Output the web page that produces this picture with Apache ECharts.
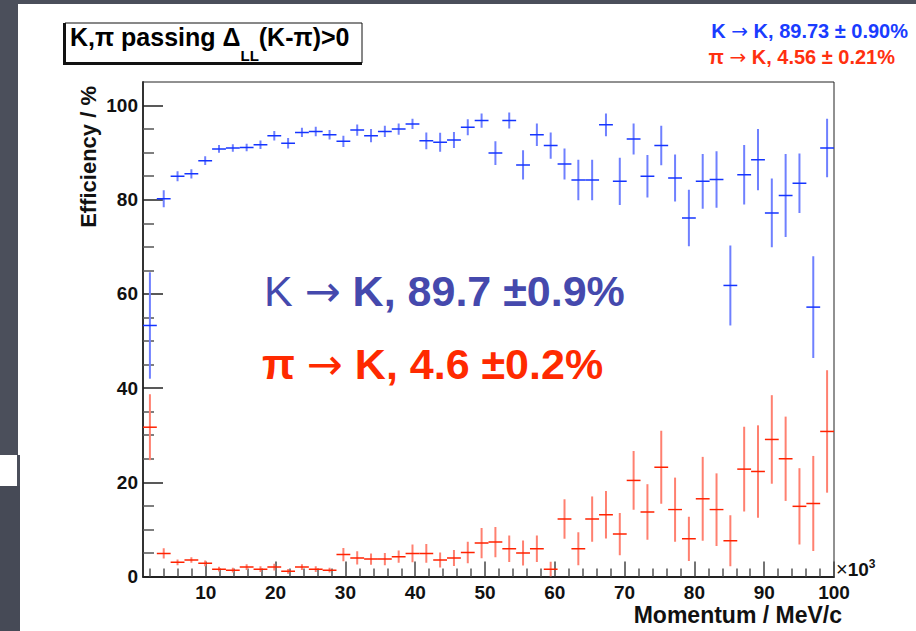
<!DOCTYPE html>
<html lang="en">
<head>
<meta charset="UTF-8">
<title>K,pi passing DLL(K-pi)>0</title>
<script src="https://cdn.jsdelivr.net/npm/echarts@6/dist/echarts.min.js"></script>
<style>html,body{margin:0;padding:0;background:#fff;}</style>
</head>
<body>
<div id="box" style="width:916px;height:631px;"></div>
<script>
// bin centres, x10^3 MeV/c (50 bins between 1 and 100)
var momentum = [1.99, 3.97, 5.95, 7.93, 9.91, 11.89, 13.87, 15.85, 17.83, 19.81,
  21.79, 23.77, 25.75, 27.73, 29.71, 31.69, 33.67, 35.65, 37.63, 39.61,
  41.59, 43.57, 45.55, 47.53, 49.51, 51.49, 53.47, 55.45, 57.43, 59.41,
  61.39, 63.37, 65.35, 67.33, 69.31, 71.29, 73.27, 75.25, 77.23, 79.21,
  81.19, 83.17, 85.15, 87.13, 89.11, 91.09, 93.07, 95.05, 97.03, 99.01];
var binHalf = 0.99;

// K -> K efficiency (%) and its error
var kEff = [53.3, 80.2, 85.0, 85.5, 88.3, 90.8, 91.0, 91.1, 91.7, 93.6,
  92.0, 94.3, 94.5, 93.8, 92.4, 94.8, 93.6, 94.5, 95.0, 96.1,
  92.5, 92.2, 92.7, 95.4, 96.8, 89.9, 96.8, 87.4, 93.8, 91.5,
  87.6, 84.2, 84.2, 95.9, 83.9, 92.9, 85.0, 91.5, 84.6, 76.1,
  83.9, 84.3, 61.8, 85.3, 88.5, 77.2, 80.9, 83.5, 57.2, 91.0];
var kErr = [11.3, 1.8, 1.06, 1.0, 0.95, 0.8, 0.8, 0.8, 0.9, 1.0,
  1.1, 1.0, 1.0, 1.0, 1.2, 1.2, 1.4, 1.2, 1.2, 1.1,
  1.8, 2.0, 1.7, 1.7, 1.5, 2.5, 1.7, 3.1, 2.4, 2.8,
  3.3, 4.3, 4.3, 2.4, 5.0, 3.3, 4.5, 4.2, 5.0, 6.0,
  5.8, 6.0, 8.5, 6.3, 6.5, 7.3, 8.8, 6.3, 10.8, 6.2];

// pi -> K mis-id rate (%) and its error
var piEff = [31.7, 4.9, 3.0, 3.5, 2.8, 1.55, 1.34, 2.0, 1.55, 2.0,
  1.1, 2.0, 1.55, 1.34, 4.66, 3.95, 3.7, 3.7, 4.2, 4.9,
  4.9, 3.5, 3.95, 5.1, 7.1, 7.3, 5.9, 5.0, 5.9, 1.55,
  12.2, 5.9, 12.2, 13.1, 9.0, 20.4, 13.7, 23.2, 14.2, 8.0,
  16.5, 14.2, 7.6, 22.8, 22.3, 29.1, 25.0, 14.9, 15.5, 30.8];
var piErr = [7.0, 1.1, 0.6, 0.6, 0.6, 0.5, 0.5, 0.6, 0.6, 0.7,
  0.5, 0.6, 0.6, 0.5, 1.4, 1.4, 1.2, 1.3, 1.3, 1.9,
  2.0, 1.6, 1.7, 2.3, 3.2, 3.2, 2.8, 2.65, 2.8, 1.6,
  4.2, 3.5, 4.8, 5.05, 4.5, 6.25, 5.9, 7.75, 6.8, 4.7,
  8.9, 7.7, 5.4, 9.0, 9.8, 9.4, 8.95, 8.1, 10.1, 13.0];

// axis ticks
var xMajor = [10, 20, 30, 40, 50, 60, 70, 80, 90, 100];
var xMinor = [2, 4, 6, 8, 12, 14, 16, 18, 22, 24, 26, 28, 32, 34, 36, 38,
  42, 44, 46, 48, 52, 54, 56, 58, 62, 64, 66, 68, 72, 74, 76, 78,
  82, 84, 86, 88, 92, 94, 96, 98];
var yMajor = [0, 20, 40, 60, 80, 100];
var yMinor = [5, 10, 15, 25, 30, 35, 45, 50, 55, 65, 70, 75, 85, 90, 95];

var FONT = '"Liberation Sans", Arial, Helvetica, sans-serif';
var ARROW = '"DejaVu Sans", sans-serif';
var measureCtx = document.createElement('canvas').getContext('2d');
function textW(str, size, weight) {
  measureCtx.font = (weight || 'normal') + ' ' + size + 'px "Liberation Sans"';
  return measureCtx.measureText(str).width;
}

function rows(vals, errs) {
  return momentum.map(function (m, i) {
    return [m, vals[i], vals[i] - errs[i], vals[i] + errs[i]];
  });
}

function crosses(vColor, hColor) {
  return function (params, api) {
    var x = api.value(0), y = api.value(1);
    var top = api.coord([x, api.value(3)]);
    var bot = api.coord([x, api.value(2)]);
    var left = api.coord([x - binHalf, y]);
    var right = api.coord([x + binHalf, y]);
    return {
      type: 'group',
      children: [
        { type: 'line', shape: { x1: top[0], y1: top[1], x2: bot[0], y2: bot[1] },
          style: { stroke: vColor, lineWidth: 2 } },
        { type: 'line', shape: { x1: left[0], y1: left[1], x2: right[0], y2: right[1] },
          style: { stroke: hColor, lineWidth: 1.5 } }
      ]
    };
  };
}

// "A -> B" text with the arrow taken from DejaVu (longer glyph)
function arrowText(x, y, a, b, size, color, weightA, align) {
  return { type: 'text', x: x, y: y, style: {
    text: '{a|' + a + '}{r|\u2192}{b|' + b + '}', align: align || 'left', verticalAlign: 'middle',
    fill: color,
    rich: {
      a: { fontFamily: FONT, fontSize: size, fontWeight: weightA, fill: color },
      r: { fontFamily: ARROW, fontSize: size, fontWeight: 'normal', fill: color },
      b: { fontFamily: FONT, fontSize: size, fontWeight: 'bold', fill: color }
    } } };
}

var chart = echarts.init(document.getElementById('box'), null, { renderer: 'svg' });

var labelStyle = { color: '#111', fontSize: 19, fontWeight: 'bold', fontFamily: FONT };
var hidden = { show: false };

// title pieces placed by measured widths (subscript LL)
var t1 = 'K,\u03c0 passing \u0394', t1w = textW(t1, 25, 'bold');
var sub = 'LL', subw = textW(sub, 15, 'bold');
var t3 = '(K-\u03c0)>0';

var option = {
  backgroundColor: '#fff',
  animation: false,
  grid: { left: 143, top: 82, width: 691, height: 494.5, show: true,
    borderColor: '#222', borderWidth: 1, backgroundColor: 'transparent' },
  xAxis: [
    { type: 'value', min: 1, max: 100, position: 'bottom',
      axisLine: { show: true, lineStyle: { color: '#222', width: 2 } },
      axisTick: { customValues: xMajor, inside: true, length: 15, lineStyle: { color: '#444', width: 1.5 } },
      axisLabel: Object.assign({ customValues: xMajor, margin: 6 }, labelStyle),
      splitLine: hidden },
    { type: 'value', min: 1, max: 100, position: 'bottom',
      axisLine: hidden,
      axisTick: { customValues: xMinor, inside: true, length: 8, lineStyle: { color: '#555', width: 1.5 } },
      axisLabel: hidden, splitLine: hidden }
  ],
  yAxis: [
    { type: 'value', min: 0, max: 105, position: 'left',
      axisLine: { show: true, lineStyle: { color: '#333', width: 2 } },
      axisTick: { customValues: yMajor, inside: true, length: 20, lineStyle: { color: '#222', width: 1.5 } },
      axisLabel: Object.assign({ customValues: yMajor, margin: 5 }, labelStyle),
      splitLine: hidden },
    { type: 'value', min: 0, max: 105, position: 'left',
      axisLine: hidden,
      axisTick: { customValues: yMinor, inside: true, length: 11, lineStyle: { color: '#555', width: 1.5 } },
      axisLabel: hidden, splitLine: hidden }
  ],
  series: [
    { type: 'custom', name: 'K \u2192 K', clip: true, xAxisIndex: 0, yAxisIndex: 0,
      renderItem: crosses('#6f80ff', '#1434ff'), data: rows(kEff, kErr) },
    { type: 'custom', name: '\u03c0 \u2192 K', clip: true, xAxisIndex: 0, yAxisIndex: 0,
      renderItem: crosses('#ff8070', '#ff2200'), data: rows(piEff, piErr) }
  ],
  graphic: [
    // slide background around the figure
    { type: 'rect', left: 0, top: 0, shape: { width: 916, height: 4 }, style: { fill: '#4b4f5b' }, z: -1 },
    { type: 'rect', left: 0, top: 0, shape: { width: 18, height: 455 }, style: { fill: '#4b4f5b' }, z: -1 },
    { type: 'rect', left: 17, top: 455, shape: { width: 3, height: 31 }, style: { fill: '#4b4f5b' }, z: -1 },
    { type: 'rect', left: 0, top: 486, shape: { width: 20, height: 145 }, style: { fill: '#464a56' }, z: -1 },

    // title pave
    { type: 'rect', shape: { x: 65, y: 23, width: 297, height: 40 },
      style: { fill: '#fff', stroke: '#111', lineWidth: 1 } },
    { type: 'line', shape: { x1: 64.5, y1: 23, x2: 64.5, y2: 64.5 }, style: { stroke: '#111', lineWidth: 3 } },
    { type: 'line', shape: { x1: 63, y1: 63.5, x2: 362, y2: 63.5 }, style: { stroke: '#111', lineWidth: 3 } },
    { type: 'text', x: 70, y: 37, style: { text: t1, font: 'bold 25px ' + FONT, fill: '#000', verticalAlign: 'middle' } },
    { type: 'text', x: 70 + t1w, y: 55, style: { text: sub, font: 'bold 15px ' + FONT, fill: '#000', verticalAlign: 'middle' } },
    { type: 'text', x: 70 + t1w + subw, y: 37, style: { text: t3, font: 'bold 25px ' + FONT, fill: '#000', verticalAlign: 'middle' } },

    // legend, top right
    arrowText(908, 31, 'K ', ' K, 89.73 \u00b1 0.90%', 20, '#1a3cff', 'bold', 'right'),
    arrowText(895, 57, '\u03c0 ', ' K, 4.56 \u00b1 0.21%', 20, '#ff3010', 'bold', 'right'),

    // big annotations
    arrowText(264, 291, 'K ', ' K, 89.7 \u00b10.9%', 43, '#4549ad', 'normal'),
    arrowText(262, 364, '\u03c0 ', ' K, 4.6 \u00b10.2%', 43, '#ff2a00', 'bold'),

    // axis titles
    { type: 'text', x: 88, y: 86, rotation: Math.PI / 2,
      style: { text: 'Efficiency / %', font: 'bold 22px ' + FONT, fill: '#111', align: 'right', verticalAlign: 'middle' } },
    { type: 'text', x: 842, y: 615, style: { text: 'Momentum / MeV/c', font: 'bold 23px ' + FONT,
      fill: '#111', align: 'right', verticalAlign: 'middle' } },
    { type: 'text', x: 836, y: 569, style: {
      text: '{x|\u00d7}{n|10}{e|3}', verticalAlign: 'middle', fill: '#111',
      rich: {
        x: { fontFamily: FONT, fontSize: 20, fill: '#111' },
        n: { fontFamily: FONT, fontSize: 19, fontWeight: 'bold', fill: '#111' },
        e: { fontFamily: FONT, fontSize: 12, fontWeight: 'bold', fill: '#111', padding: [0, 0, 10, 0] }
      } } }
  ]
};
chart.setOption(option);
</script>
</body>
</html>
